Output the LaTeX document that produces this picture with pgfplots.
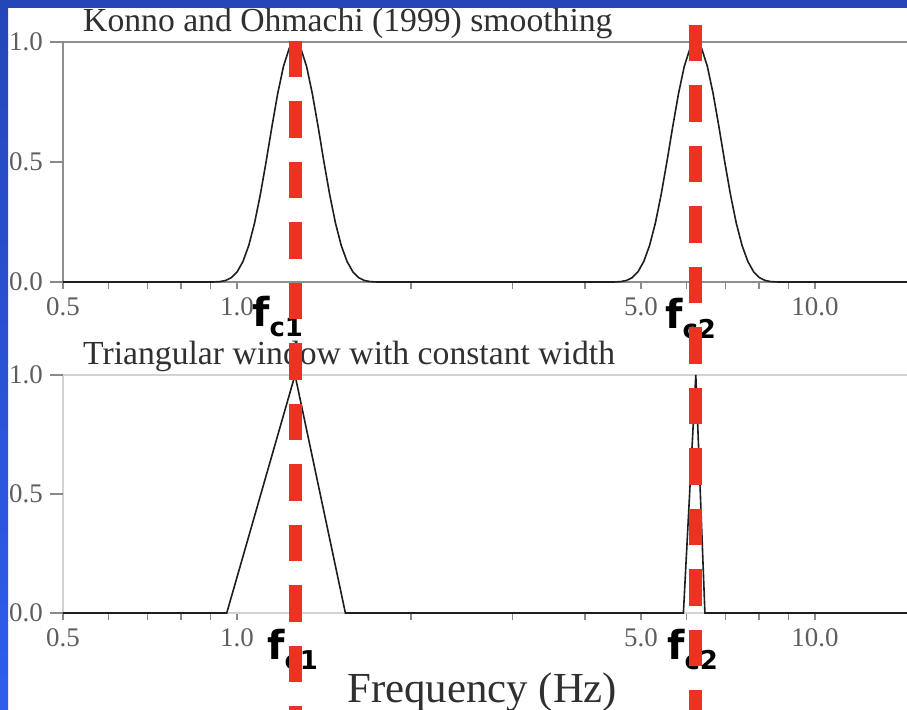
\documentclass[border=0pt]{standalone}
\usepackage{pgfplots}
\pgfplotsset{compat=1.18}
\usepackage{fontspec}
\setmainfont{Liberation Serif}
\newfontfamily\flab{DejaVu Sans Bold}

\definecolor{bgblueA}{HTML}{2446B8}
\definecolor{bgblueB}{HTML}{2E5DEE}
\definecolor{markred}{HTML}{EE3124}
\definecolor{axgray}{HTML}{8E8E8E}
\definecolor{axlight}{HTML}{D2D2D2}
\definecolor{tickgray}{HTML}{8A8A8A}
\definecolor{labgray}{HTML}{5E5E5E}
\definecolor{titlegray}{HTML}{303030}
\definecolor{curve}{HTML}{1E1E1E}

\newcommand\ticksize{\fontsize{27}{27}\selectfont}
\newcommand\titlesize{\fontsize{33.8}{33.8}\selectfont}
\newcommand\fsym[1]{{\fontsize{40}{40}\selectfont\flab f}\raisebox{-10bp}{\fontsize{26}{26}\selectfont\flab #1}}

\pgfplotsset{
  panel/.style={
    anchor=south west, scale only axis, width=926bp,
    xmin=0.5, xmax=20, ymin=0, ymax=1,
    clip=false,
    tick align=outside,
    xtick pos=bottom, ytick pos=left,
    major tick length=7bp, minor tick length=7bp,
    tick style={draw=tickgray, line width=1.2bp},
    xtick={0.5,1,5,10}, xticklabels={0.5,1.0,5.0,10.0},
    minor xtick={0.6,0.7,0.8,0.9,2,3,4,6,7,8,9,20},
    ytick=\empty,
    extra y ticks={0,0.5,1},
    extra y tick labels={0.0,0.5,1.0},
    extra y tick style={major tick length=13bp},
    xticklabel style={font=\ticksize, text=labgray, inner sep=0pt, yshift=-8bp},
    yticklabel style={font=\ticksize, text=labgray, inner sep=0pt, xshift=-7bp},
    /pgf/number format/assume math mode=true,
  },
  fcline/.style={markred, line width=13bp, dash pattern=on 36.5bp off 24bp},
}

\begin{document}
\begin{tikzpicture}
\useasboundingbox (0bp,0bp) rectangle (907bp,710bp);
\fill[white] (0bp,0bp) rectangle (907bp,710bp);
\clip (0bp,0bp) rectangle (907bp,710bp);

% panel titles and axis label
\node[anchor=base west, inner sep=0pt, text=titlegray] at (83bp,678bp)
  {\titlesize Konno and Ohmachi (1999) smoothing};
\node[anchor=base west, inner sep=0pt, text=titlegray] at (83bp,345bp)
  {\titlesize Triangular window with constant width};
\node[anchor=base west, inner sep=0pt, text=titlegray] at (347bp,8bp)
  {\fontsize{43}{43}\selectfont Frequency (Hz)};

% centre-frequency labels
\node[anchor=base west, inner sep=0pt] at (252bp,383bp) {\fsym{c1}};
\node[anchor=base west, inner sep=0pt] at (665bp,381bp) {\fsym{c2}};
\node[anchor=base west, inner sep=0pt] at (267bp,50bp) {\fsym{c1}};
\node[anchor=base west, inner sep=0pt] at (667bp,50bp) {\fsym{c2}};

% Konno-Ohmachi window (b = 20) around 1.26 Hz and 6.22 Hz
\begin{axis}[xmode=log, panel, at={(63bp,428bp)}, height=240bp,
  axis line style={draw=axgray, line width=1.6bp}]
\addplot[curve, line width=1.6bp] coordinates {
 (0.5,0) (0.8717,0) (0.8920,0) (0.9128,0.0002) (0.9341,0.0016) (0.9558,0.0063)
 (0.9781,0.0182) (1.0009,0.0427) (1.0242,0.0857) (1.0480,0.1523) (1.0724,0.2455)
 (1.0974,0.3639) (1.1230,0.5014) (1.1491,0.6465) (1.1759,0.7843) (1.2033,0.8983)
 (1.2313,0.9737) (1.26,1) (1.2893,0.9737) (1.3194,0.8983) (1.3501,0.7843)
 (1.3816,0.6465) (1.4137,0.5014) (1.4467,0.3639) (1.4804,0.2455) (1.5148,0.1523)
 (1.5501,0.0857) (1.5863,0.0427) (1.6232,0.0182) (1.6610,0.0063) (1.6997,0.0016)
 (1.7393,0.0002) (1.7798,0) (1.8213,0)
 (4.3032,0) (4.4034,0) (4.5060,0.0002) (4.6110,0.0016) (4.7184,0.0063)
 (4.8283,0.0182) (4.9407,0.0427) (5.0558,0.0857) (5.1736,0.1523) (5.2941,0.2455)
 (5.4174,0.3639) (5.5436,0.5014) (5.6727,0.6465) (5.8048,0.7843) (5.9401,0.8983)
 (6.0784,0.9737) (6.22,1) (6.3649,0.9737) (6.5131,0.8983) (6.6649,0.7843)
 (6.8201,0.6465) (6.9790,0.5014) (7.1415,0.3639) (7.3079,0.2455) (7.4781,0.1523)
 (7.6523,0.0857) (7.8305,0.0427) (8.0129,0.0182) (8.1996,0.0063) (8.3905,0.0016)
 (8.5860,0.0002) (8.7860,0) (8.9906,0) (20,0)
};
\end{axis}

% triangular windows of constant width
\begin{axis}[xmode=log, panel, at={(63bp,97bp)}, height=238bp,
  axis line style={draw=axlight, line width=2.6bp}]
\addplot[curve, line width=1.6bp] coordinates {
 (0.5,0) (0.96,0) (1.26,1) (1.54,0) (5.92,0) (6.22,1) (6.45,0) (20,0)
};
% centre frequencies
\addplot[fcline] coordinates {(1.26,2.4034) (1.26,-0.4076)};
\addplot[fcline] coordinates {(6.2,2.4706) (6.2,-0.4076)};
\end{axis}

% slide frame
\shade[top color=bgblueA, bottom color=bgblueB] (0bp,0bp) rectangle (8bp,710bp);
\fill[bgblueA] (0bp,702bp) rectangle (907bp,710bp);
\end{tikzpicture}
\end{document}
